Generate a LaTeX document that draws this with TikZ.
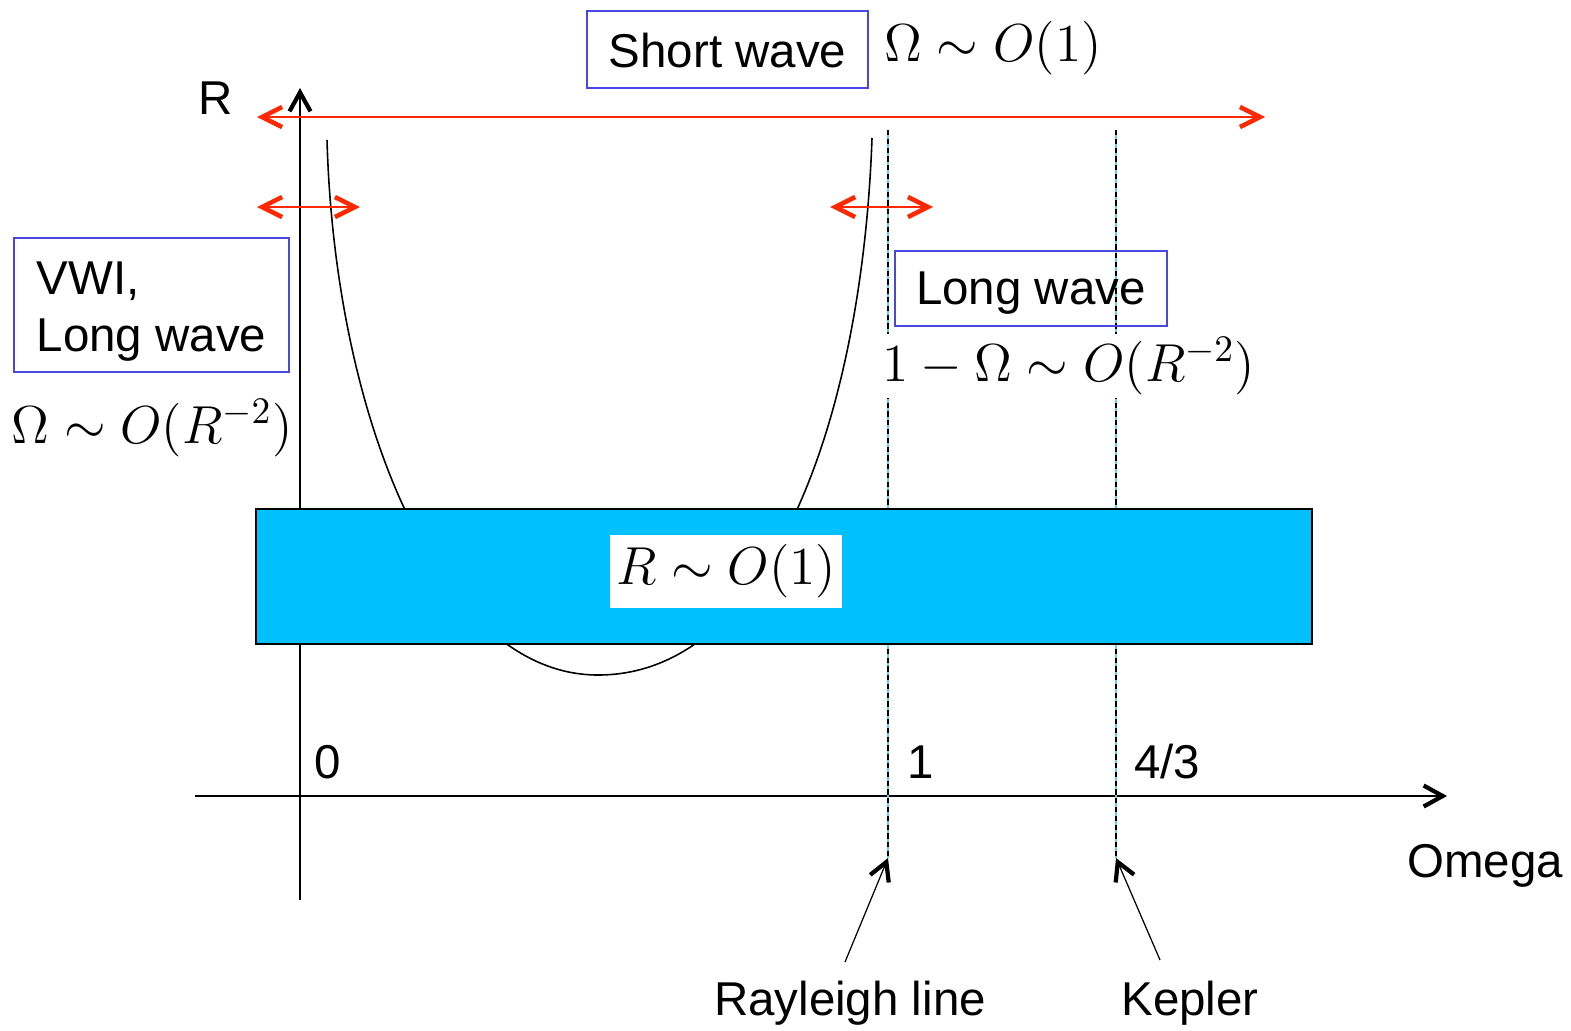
\RequirePackage{fix-cm}
\documentclass[tikz,border=0pt]{standalone}
\usepackage[no-math]{fontspec}
\setmainfont{Liberation Sans}
\usetikzlibrary{arrows.meta}
\definecolor{arrred}{RGB}{255,40,0}
\definecolor{boxblue}{RGB}{72,72,222}
\definecolor{bandcyan}{RGB}{0,192,255}
\definecolor{dashcyan}{RGB}{100,205,240}
\tikzset{
  lbl/.style={font=\fontsize{13.5}{16.2}\selectfont,inner sep=0pt},
  mlbl/.style={font=\fontsize{15.2}{18}\selectfont,inner sep=1pt},
  wbox/.style={draw=boxblue,line width=0.45pt,font=\fontsize{13.5}{16.2}\selectfont,inner sep=0pt},
  band/.style={draw,line width=0.6pt,fill=bandcyan,minimum width=10.56cm,minimum height=1.35cm},
  ax/.style={-{Straight Barb[length=1.9mm,width=2.1mm,line width=1.2pt]},line width=0.6pt},
  ra/.style={{Straight Barb[length=2mm,width=2mm,line width=1.3pt]}-{Straight Barb[length=2mm,width=2mm,line width=1.3pt]},arrred,line width=0.6pt},
  pa/.style={-{Straight Barb[length=1.8mm,width=2mm,line width=1.2pt]},line width=0.35pt},
  cline/.style={dashcyan,line width=0.45pt},
  dline/.style={black,line width=0.45pt,dash pattern=on 1.5pt off 1pt}
}
\begin{document}
\begin{tikzpicture}[x=0.01cm,y=-0.01cm]
\useasboundingbox (0,0) rectangle (1571,1030);
% axes
\coordinate (Rlo) at (300,900);
\coordinate (Rhi) at (300,88);
\coordinate (Wlo) at (195,796);
\coordinate (Whi) at (1447,796);
\draw[ax] (Rlo) -- (Rhi);
\draw[ax] (Wlo) -- (Whi);
\node[lbl] (Rlab) at (216,98) {R};
\node[lbl] (Wlab) at (1485,866) {Omega};
\node[lbl] (t0) at (328,762) {0};
\node[lbl] (t1) at (921,762) {1};
\node[lbl] (t43) at (1167,762) {4/3};
% neutral curve
\draw[line width=0.45pt] (327,140) .. controls (335,420) and (440,675) .. (598,675)
  .. controls (770,675) and (862,420) .. (872,138);
% Rayleigh and Kepler lines
\coordinate (Ltop) at (888,130);
\coordinate (Lbot) at (888,858);
\coordinate (Ktop) at (1116,130);
\coordinate (Kbot) at (1116,858);
\draw[cline] (Ltop) -- (Lbot);
\draw[dline] (Ltop) -- (Lbot);
\draw[cline] (Ktop) -- (Kbot);
\draw[dline] (Ktop) -- (Kbot);
% band R ~ O(1)
\node[band] (band) at (784,576.5) {};
\node[mlbl,fill=white,minimum width=2.32cm,minimum height=0.73cm] (Rord) at (726,571.5) {$R\sim O(1)$};
% red ranges
\coordinate (S1) at (257,117);
\coordinate (S2) at (1265,117);
\coordinate (V1) at (257,207);
\coordinate (V2) at (360,207);
\coordinate (L1) at (830,207);
\coordinate (L2) at (933,207);
\draw[ra] (S1) -- (S2);
\draw[ra] (V1) -- (V2);
\draw[ra] (L1) -- (L2);
% regimes
\node[wbox,minimum width=2.81cm,minimum height=0.77cm,text height=10.5pt] (short) at (727.5,49.5) {Short wave};
\node[mlbl] (shortord) at (993,48) {$\Omega\sim O(1)$};
\node[wbox,align=left,minimum width=2.75cm,minimum height=1.34cm,text height=29.3pt] (vwi) at (151.5,305) {VWI,\\Long wave};
\node[mlbl] (vwiord) at (152,428) {$\Omega\sim O(R^{-2})$};
\node[wbox,minimum width=2.72cm,minimum height=0.75cm,text height=11.7pt] (long) at (1031,288.5) {Long wave};
\node[mlbl,fill=white] (longord) at (1069,366) {$1-\Omega\sim O(R^{-2})$};
% pointers
\node[lbl] (ray) at (850,1003) {Rayleigh line};
\node[lbl] (kep) at (1190,1003) {Kepler};
\coordinate (rayfoot) at (845,962);
\coordinate (kepfoot) at (1160,960);
\draw[pa] (rayfoot) -- (Lbot);
\draw[pa] (kepfoot) -- (Kbot);
\end{tikzpicture}
\end{document}
